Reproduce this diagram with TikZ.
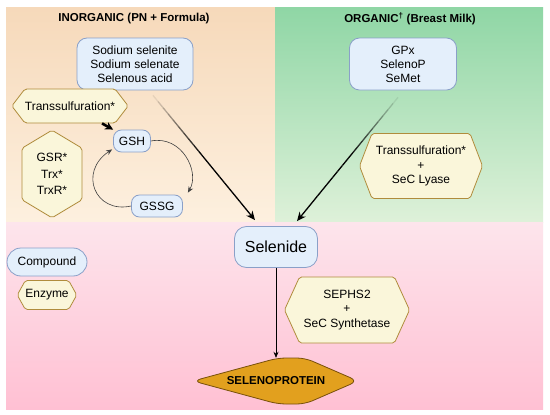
\documentclass[tikz,border=0pt]{standalone}
\usepackage{fontspec}
\setmainfont{Liberation Sans}
\usetikzlibrary{shapes.symbols, arrows.meta, calc}
\definecolor{inorgtop}{RGB}{246,217,186}
\definecolor{inorgbot}{RGB}{253,240,223}
\definecolor{orgtop}{RGB}{143,214,165}
\definecolor{orgbot}{RGB}{222,241,217}
\definecolor{pinktop}{RGB}{253,229,236}
\definecolor{pinkbot}{RGB}{255,192,211}
\definecolor{cmpfill}{RGB}{228,239,251}
\definecolor{cmpline}{RGB}{138,160,200}
\definecolor{enzfill}{RGB}{250,246,218}
\definecolor{enzline}{RGB}{176,140,60}
\definecolor{protfill}{RGB}{226,160,30}
\definecolor{protline}{RGB}{120,80,10}

\begin{document}
\begin{tikzpicture}[x=1pt, y=-1pt,
    cmpd/.style={draw=cmpline, fill=cmpfill, line width=0.8pt, rounded corners=10pt,
                 align=center, inner sep=0pt, font=\fontsize{12}{14}\selectfont},
    enz/.style={signal, signal to=east and west, draw=enzline, fill=enzfill,
                line width=0.8pt, rounded corners=2pt, align=center, inner sep=0pt,
                font=\fontsize{12}{14.5}\selectfont},
    ttl/.style={font=\fontsize{11.5}{14}\selectfont\bfseries},
    grad/.style={line width=1.3pt},
    cyc/.style={draw=black!75, line width=0.6pt, -{Stealth[length=6pt,width=5pt]}}]
    \useasboundingbox (0,0) rectangle (550,415);

    %% panels
    \fill[white] (0,0) rectangle (550,415);
    \shade[top color=inorgtop, bottom color=inorgbot] (6,7) rectangle (275,222);
    \shade[top color=orgtop, bottom color=orgbot] (275,7) rectangle (543,222);
    \shade[top color=pinktop, bottom color=pinkbot] (6,222) rectangle (543,409);

    \node[ttl] (ttlinorg) at (134,19) {INORGANIC (PN + Formula)};
    \node[ttl] (ttlorg) at (410,19) {ORGANIC\textsuperscript{\textdagger} (Breast Milk)};

    %% sources
    \node[cmpd, minimum width=116, minimum height=52] (inorg) at (135,64)
      {Sodium selenite\\Sodium selenate\\Selenous acid};
    \node[cmpd, minimum width=107, minimum height=52] (org) at (403,64)
      {GPx\\SelenoP\\SeMet};

    %% glutathione cycle
    \node[enz, signal pointer angle=105, minimum width=107, minimum height=34] (tsul) at (70,106)
      {Transsulfuration*};
    \node[cmpd, rounded corners=8pt, minimum width=37, minimum height=22] (gsh) at (132,141) {GSH};
    \node[cmpd, rounded corners=8pt, minimum width=51, minimum height=22] (gssg) at (157,206) {GSSG};
    \node[enz, signal to=north and south, signal pointer angle=118, minimum width=60,
          minimum height=70, font=\fontsize{12}{16.5}\selectfont] (redx) at (52,174)
      {GSR*\\Trx*\\TrxR*};

    \node[enz, signal pointer angle=138, minimum width=123, minimum height=65] (tsullyase) at (421,166)
      {Transsulfuration*\\+\\SeC Lyase};

    %% selenide and product
    \node[cmpd, font=\fontsize{16}{18}\selectfont, rounded corners=12pt,
          minimum width=83, minimum height=41] (sel) at (276,247) {Selenide};
    \node[enz, signal pointer angle=131, minimum width=125, minimum height=66] (sephs) at (347,310)
      {SEPHS2\\+\\SeC Synthetase};

    \fill[protfill, draw=protline, line width=0.8pt, rounded corners=8pt]
      (193,381) -- (278,358) -- (305,358) -- (358,381) -- (305,404) -- (278,404) -- cycle;
    \node[font=\fontsize{11.5}{14}\selectfont\bfseries, minimum height=46] (prot) at (276,381) {SELENOPROTEIN};

    %% legend
    \node[cmpd, rounded corners=14pt, minimum width=80, minimum height=28] (lgcmp) at (47,262) {Compound};
    \node[enz, signal pointer angle=122, minimum width=55, minimum height=29] (lgenz) at (47,295) {Enzyme};

    %% connectors
    \coordinate (inorgout) at ($(inorg.south)+(18,5)$);
    \coordinate (orgout) at ($(org.south)+(-5,7)$);
    \coordinate (selin) at ($(sel.north)+(-21,-6)$);
    \coordinate (selorg) at ($(sel.north)+(21,-5)$);
    \foreach \src/\dst in {inorgout/selin, orgout/selorg}{
      \foreach \k in {0,...,17}{
        \pgfmathsetmacro\ka{\k/20}
        \pgfmathsetmacro\kb{(\k+1)/20}
        \pgfmathsetmacro\op{min(1,0.08+\k/10)}
        \draw[grad, draw opacity=\op] ($(\src)!\ka!(\dst)$) -- ($(\src)!\kb!(\dst)$);
      }
      \draw[grad, -{Stealth[length=9pt,width=8pt]}] ($(\src)!0.9!(\dst)$) -- (\dst);
    }

    \draw[line width=2.6pt, -{Stealth[length=8pt,width=8pt]}] ($(tsul.south)+(32,0)$) -- (gsh.north west);
    \draw[cyc] (gsh.east) .. controls (182,135) and (200,172) .. ($(gssg.north east)+(5,-2)$);
    \draw[cyc] (gssg.west) .. controls (95,214) and (78,172) .. ($(gsh.south west)+(-1,-3)$);

    \draw[line width=0.7pt, -{Stealth[length=6pt,width=5pt]}] (sel.south) -- (prot.north);
\end{tikzpicture}
\end{document}
